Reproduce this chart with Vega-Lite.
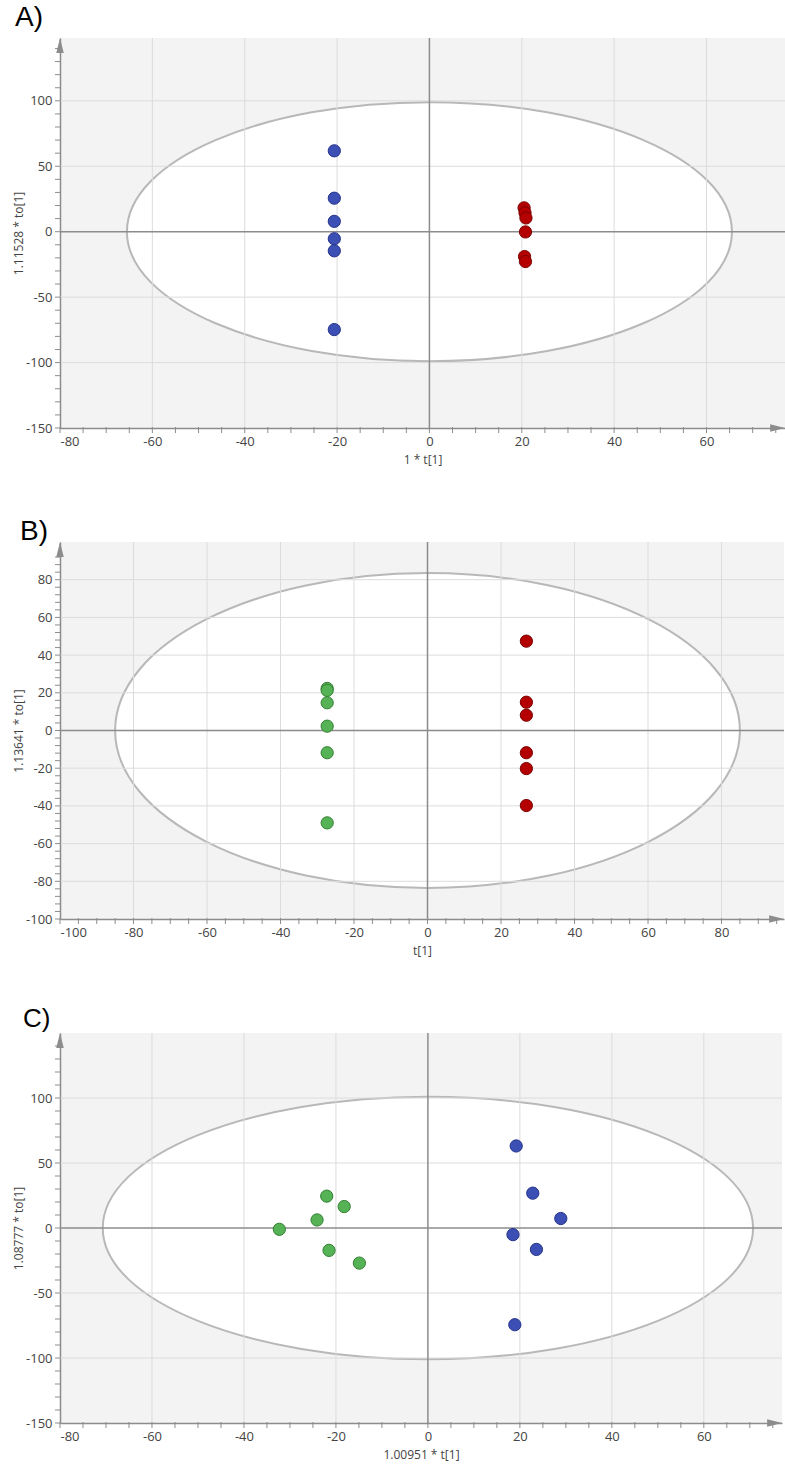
{
  "$schema": "https://vega.github.io/schema/vega-lite/v6.json",
  "padding": {"left": 12, "top": 4, "right": 0, "bottom": 6},
  "bounds": "flush",
  "spacing": 114,
  "config": {
    "view": {"fill": "#f3f3f3", "stroke": null},
    "axis": {"grid": false, "ticks": false, "tickSize": 0, "domainColor": "#8c8c8c", "domainWidth": 1.5, "labelFont": "Open Sans", "labelFontSize": 13, "labelColor": "#444444", "titleFont": "Open Sans", "titleFontSize": 12, "titleFontWeight": "normal", "titleColor": "#444444", "labelOverlap": false, "labelPadding": 8, "labelExpr": "replace(datum.label, '−', '-')"},
    "axisX": {"labelPadding": 7, "titlePadding": 6},
    "axisY": {"titleX": -35, "titleBaseline": "bottom"},
    "title": {"anchor": "start", "frame": "group", "font": "Liberation Sans", "fontWeight": "normal", "color": "#000000", "baseline": "alphabetic"}
  },
  "vconcat": [
    {
      "width": 725,
      "height": 390,
      "title": {"text": "A)", "dx": -45, "offset": 5, "fontSize": 28},
      "layer": [
        {
          "data": {"values": [{"x": 0, "y": 0}]},
          "mark": {"type": "point", "shape": "M-1,0C-1,-0.2364,-0.5523,-0.4283,0,-0.4283C0.5523,-0.4283,1,-0.2364,1,0C1,0.2364,0.5523,0.4283,0,0.4283C-0.5523,0.4283,-1,0.2364,-1,0Z", "size": 366025, "filled": true, "fill": "#ffffff", "stroke": "#b8b8b8", "strokeWidth": 2, "opacity": 1},
          "encoding": {
            "x": {"field": "x", "type": "quantitative", "scale": {"domain": [-80, 77], "nice": false, "zero": false}, "axis": {"title": "1 * t[1]", "values": [-80,-60,-40,-20,0,20,40,60]}},
            "y": {"field": "y", "type": "quantitative", "scale": {"domain": [-150, 148], "nice": false, "zero": false}, "axis": {"title": "1.11528 * to[1]", "values": [-150,-100,-50,0,50,100]}}
          }
        },
        {
          "data": {"values": [{"x": -60}, {"x": -40}, {"x": -20}, {"x": 20}, {"x": 40}, {"x": 60}]},
          "mark": {"type": "rule", "color": "#dcdcdc", "strokeWidth": 1},
          "encoding": {"x": {"field": "x", "type": "quantitative"}}
        },
        {
          "data": {"values": [{"y": -100}, {"y": -50}, {"y": 50}, {"y": 100}]},
          "mark": {"type": "rule", "color": "#dcdcdc", "strokeWidth": 1},
          "encoding": {"y": {"field": "y", "type": "quantitative"}}
        },
        {
          "data": {"values": [{"x": 0}]},
          "mark": {"type": "rule", "color": "#8c8c8c", "strokeWidth": 1.5},
          "encoding": {"x": {"field": "x", "type": "quantitative"}}
        },
        {
          "data": {"values": [{"y": 0}]},
          "mark": {"type": "rule", "color": "#8c8c8c", "strokeWidth": 1.5},
          "encoding": {"y": {"field": "y", "type": "quantitative"}}
        },
        {
          "data": {"values": [{"x":-80},{"x":-75},{"x":-70},{"x":-65},{"x":-60},{"x":-55},{"x":-50},{"x":-45},{"x":-40},{"x":-35},{"x":-30},{"x":-25},{"x":-20},{"x":-15},{"x":-10},{"x":-5},{"x":0},{"x":5},{"x":10},{"x":15},{"x":20},{"x":25},{"x":30},{"x":35},{"x":40},{"x":45},{"x":50},{"x":55},{"x":60},{"x":65},{"x":70},{"x":75}]},
          "mark": {"type": "tick", "orient": "vertical", "size": 6, "thickness": 1, "color": "#8c8c8c", "yOffset": 2, "opacity": 1},
          "encoding": {"x": {"field": "x", "type": "quantitative"}, "y": {"datum": -150, "type": "quantitative"}}
        },
        {
          "data": {"values": [{"y":-150},{"y":-140},{"y":-130},{"y":-120},{"y":-110},{"y":-100},{"y":-90},{"y":-80},{"y":-70},{"y":-60},{"y":-50},{"y":-40},{"y":-30},{"y":-20},{"y":-10},{"y":0},{"y":10},{"y":20},{"y":30},{"y":40},{"y":50},{"y":60},{"y":70},{"y":80},{"y":90},{"y":100},{"y":110},{"y":120},{"y":130},{"y":140}]},
          "mark": {"type": "tick", "orient": "horizontal", "size": 6, "thickness": 1, "color": "#8c8c8c", "xOffset": -2, "opacity": 1},
          "encoding": {"y": {"field": "y", "type": "quantitative"}, "x": {"datum": -80, "type": "quantitative"}}
        },
        {
          "data": {"values": [{"x": -80, "y": 142.3}]},
          "mark": {"type": "point", "shape": "M0,-1L0.5,1L-0.5,1Z", "size": 225, "filled": true, "color": "#8c8c8c", "opacity": 1},
          "encoding": {"x": {"field": "x", "type": "quantitative"}, "y": {"field": "y", "type": "quantitative"}}
        },
        {
          "data": {"values": [{"x": 75.4, "y": -150}]},
          "mark": {"type": "point", "shape": "M1,0L-1,-0.5L-1,0.5Z", "size": 225, "filled": true, "color": "#8c8c8c", "opacity": 1},
          "encoding": {"x": {"field": "x", "type": "quantitative"}, "y": {"field": "y", "type": "quantitative"}}
        },
        {
          "data": {"values": [
            {"x": -20.6, "y": 61.8, "group": "Class 1"},
            {"x": -20.6, "y": 25.6, "group": "Class 1"},
            {"x": -20.6, "y": 7.9, "group": "Class 1"},
            {"x": -20.6, "y": -5.4, "group": "Class 1"},
            {"x": -20.6, "y": -14.6, "group": "Class 1"},
            {"x": -20.6, "y": -74.8, "group": "Class 1"},
            {"x": 20.5, "y": 18.2, "group": "Class 2"},
            {"x": 20.7, "y": 14.4, "group": "Class 2"},
            {"x": 20.9, "y": 10.5, "group": "Class 2"},
            {"x": 20.8, "y": -0.2, "group": "Class 2"},
            {"x": 20.6, "y": -19.0, "group": "Class 2"},
            {"x": 20.8, "y": -22.8, "group": "Class 2"}
          ]},
          "mark": {"type": "point", "filled": true, "size": 150, "strokeWidth": 1, "opacity": 1},
          "encoding": {
            "x": {"field": "x", "type": "quantitative"},
            "y": {"field": "y", "type": "quantitative"},
            "color": {"field": "group", "type": "nominal", "scale": {"domain": ["Class 1", "Class 2", "Class 3"], "range": ["#3b4fb4", "#b40000", "#55b255"]}, "legend": null},
            "stroke": {"field": "group", "type": "nominal", "scale": {"domain": ["Class 1", "Class 2", "Class 3"], "range": ["#26348a", "#7a0000", "#358035"]}, "legend": null}
          }
        }
      ]
    },
    {
      "width": 724,
      "height": 377,
      "title": {"text": "B)", "dx": -40, "offset": -5, "fontSize": 28},
      "layer": [
        {
          "data": {"values": [{"x": 0, "y": 0}]},
          "mark": {"type": "point", "shape": "M-1,0C-1,-0.2782,-0.5523,-0.5038,0,-0.5038C0.5523,-0.5038,1,-0.2782,1,0C1,0.2782,0.5523,0.5038,0,0.5038C-0.5523,0.5038,-1,0.2782,-1,0Z", "size": 390375, "filled": true, "fill": "#ffffff", "stroke": "#b8b8b8", "strokeWidth": 2, "opacity": 1},
          "encoding": {
            "x": {"field": "x", "type": "quantitative", "scale": {"domain": [-100, 97], "nice": false, "zero": false}, "axis": {"title": "t[1]", "values": [-100,-80,-60,-40,-20,0,20,40,60,80]}},
            "y": {"field": "y", "type": "quantitative", "scale": {"domain": [-100, 100], "nice": false, "zero": false}, "axis": {"title": "1.13641 * to[1]", "values": [-100,-80,-60,-40,-20,0,20,40,60,80]}}
          }
        },
        {
          "data": {"values": [{"x": -80}, {"x": -60}, {"x": -40}, {"x": -20}, {"x": 20}, {"x": 40}, {"x": 60}, {"x": 80}]},
          "mark": {"type": "rule", "color": "#dcdcdc", "strokeWidth": 1},
          "encoding": {"x": {"field": "x", "type": "quantitative"}}
        },
        {
          "data": {"values": [{"y": -80}, {"y": -60}, {"y": -40}, {"y": -20}, {"y": 20}, {"y": 40}, {"y": 60}, {"y": 80}]},
          "mark": {"type": "rule", "color": "#dcdcdc", "strokeWidth": 1},
          "encoding": {"y": {"field": "y", "type": "quantitative"}}
        },
        {
          "data": {"values": [{"x": 0}]},
          "mark": {"type": "rule", "color": "#8c8c8c", "strokeWidth": 1.5},
          "encoding": {"x": {"field": "x", "type": "quantitative"}}
        },
        {
          "data": {"values": [{"y": 0}]},
          "mark": {"type": "rule", "color": "#8c8c8c", "strokeWidth": 1.5},
          "encoding": {"y": {"field": "y", "type": "quantitative"}}
        },
        {
          "data": {"values": [{"x":-100},{"x":-95},{"x":-90},{"x":-85},{"x":-80},{"x":-75},{"x":-70},{"x":-65},{"x":-60},{"x":-55},{"x":-50},{"x":-45},{"x":-40},{"x":-35},{"x":-30},{"x":-25},{"x":-20},{"x":-15},{"x":-10},{"x":-5},{"x":0},{"x":5},{"x":10},{"x":15},{"x":20},{"x":25},{"x":30},{"x":35},{"x":40},{"x":45},{"x":50},{"x":55},{"x":60},{"x":65},{"x":70},{"x":75},{"x":80},{"x":85},{"x":90},{"x":95}]},
          "mark": {"type": "tick", "orient": "vertical", "size": 6, "thickness": 1, "color": "#8c8c8c", "yOffset": 2, "opacity": 1},
          "encoding": {"x": {"field": "x", "type": "quantitative"}, "y": {"datum": -100, "type": "quantitative"}}
        },
        {
          "data": {"values": [{"y":-100},{"y":-96},{"y":-92},{"y":-88},{"y":-84},{"y":-80},{"y":-76},{"y":-72},{"y":-68},{"y":-64},{"y":-60},{"y":-56},{"y":-52},{"y":-48},{"y":-44},{"y":-40},{"y":-36},{"y":-32},{"y":-28},{"y":-24},{"y":-20},{"y":-16},{"y":-12},{"y":-8},{"y":-4},{"y":0},{"y":4},{"y":8},{"y":12},{"y":16},{"y":20},{"y":24},{"y":28},{"y":32},{"y":36},{"y":40},{"y":44},{"y":48},{"y":52},{"y":56},{"y":60},{"y":64},{"y":68},{"y":72},{"y":76},{"y":80},{"y":84},{"y":88},{"y":92}]},
          "mark": {"type": "tick", "orient": "horizontal", "size": 6, "thickness": 1, "color": "#8c8c8c", "xOffset": -2, "opacity": 1},
          "encoding": {"y": {"field": "y", "type": "quantitative"}, "x": {"datum": -100, "type": "quantitative"}}
        },
        {
          "data": {"values": [{"x": -100, "y": 96}]},
          "mark": {"type": "point", "shape": "M0,-1L0.5,1L-0.5,1Z", "size": 225, "filled": true, "color": "#8c8c8c", "opacity": 1},
          "encoding": {"x": {"field": "x", "type": "quantitative"}, "y": {"field": "y", "type": "quantitative"}}
        },
        {
          "data": {"values": [{"x": 95, "y": -100}]},
          "mark": {"type": "point", "shape": "M1,0L-1,-0.5L-1,0.5Z", "size": 225, "filled": true, "color": "#8c8c8c", "opacity": 1},
          "encoding": {"x": {"field": "x", "type": "quantitative"}, "y": {"field": "y", "type": "quantitative"}}
        },
        {
          "data": {"values": [
            {"x": -27.3, "y": 22.3, "group": "Class 3"},
            {"x": -27.3, "y": 21.3, "group": "Class 3"},
            {"x": -27.3, "y": 14.7, "group": "Class 3"},
            {"x": -27.3, "y": 2.3, "group": "Class 3"},
            {"x": -27.3, "y": -11.8, "group": "Class 3"},
            {"x": -27.3, "y": -49.0, "group": "Class 3"},
            {"x": 26.9, "y": 47.4, "group": "Class 2"},
            {"x": 26.9, "y": 15.0, "group": "Class 2"},
            {"x": 26.9, "y": 8.1, "group": "Class 2"},
            {"x": 26.9, "y": -11.8, "group": "Class 2"},
            {"x": 26.9, "y": -20.2, "group": "Class 2"},
            {"x": 26.9, "y": -39.8, "group": "Class 2"}
          ]},
          "mark": {"type": "point", "filled": true, "size": 150, "strokeWidth": 1, "opacity": 1},
          "encoding": {
            "x": {"field": "x", "type": "quantitative"},
            "y": {"field": "y", "type": "quantitative"},
            "color": {"field": "group", "type": "nominal", "scale": {"domain": ["Class 1", "Class 2", "Class 3"], "range": ["#3b4fb4", "#b40000", "#55b255"]}, "legend": null},
            "stroke": {"field": "group", "type": "nominal", "scale": {"domain": ["Class 1", "Class 2", "Class 3"], "range": ["#26348a", "#7a0000", "#358035"]}, "legend": null}
          }
        }
      ]
    },
    {
      "width": 722,
      "height": 390,
      "title": {"text": "C)", "dx": -37, "offset": 0, "fontSize": 26},
      "layer": [
        {
          "data": {"values": [{"x": 0, "y": 0}]},
          "mark": {"type": "point", "shape": "M-1,0C-1,-0.2230,-0.5523,-0.4038,0,-0.4038C0.5523,-0.4038,1,-0.2230,1,0C1,0.2230,0.5523,0.4038,0,0.4038C-0.5523,0.4038,-1,0.2230,-1,0Z", "size": 422890, "filled": true, "fill": "#ffffff", "stroke": "#b8b8b8", "strokeWidth": 2, "opacity": 1},
          "encoding": {
            "x": {"field": "x", "type": "quantitative", "scale": {"domain": [-80, 77], "nice": false, "zero": false}, "axis": {"title": "1.00951 * t[1]", "values": [-80,-60,-40,-20,0,20,40,60]}},
            "y": {"field": "y", "type": "quantitative", "scale": {"domain": [-150, 150], "nice": false, "zero": false}, "axis": {"title": "1.08777 * to[1]", "values": [-150,-100,-50,0,50,100]}}
          }
        },
        {
          "data": {"values": [{"x": -60}, {"x": -40}, {"x": -20}, {"x": 20}, {"x": 40}, {"x": 60}]},
          "mark": {"type": "rule", "color": "#dcdcdc", "strokeWidth": 1},
          "encoding": {"x": {"field": "x", "type": "quantitative"}}
        },
        {
          "data": {"values": [{"y": -100}, {"y": -50}, {"y": 50}, {"y": 100}]},
          "mark": {"type": "rule", "color": "#dcdcdc", "strokeWidth": 1},
          "encoding": {"y": {"field": "y", "type": "quantitative"}}
        },
        {
          "data": {"values": [{"x": 0}]},
          "mark": {"type": "rule", "color": "#8c8c8c", "strokeWidth": 1.5},
          "encoding": {"x": {"field": "x", "type": "quantitative"}}
        },
        {
          "data": {"values": [{"y": 0}]},
          "mark": {"type": "rule", "color": "#8c8c8c", "strokeWidth": 1.5},
          "encoding": {"y": {"field": "y", "type": "quantitative"}}
        },
        {
          "data": {"values": [{"x":-80},{"x":-75},{"x":-70},{"x":-65},{"x":-60},{"x":-55},{"x":-50},{"x":-45},{"x":-40},{"x":-35},{"x":-30},{"x":-25},{"x":-20},{"x":-15},{"x":-10},{"x":-5},{"x":0},{"x":5},{"x":10},{"x":15},{"x":20},{"x":25},{"x":30},{"x":35},{"x":40},{"x":45},{"x":50},{"x":55},{"x":60},{"x":65},{"x":70},{"x":75}]},
          "mark": {"type": "tick", "orient": "vertical", "size": 6, "thickness": 1, "color": "#8c8c8c", "yOffset": 2, "opacity": 1},
          "encoding": {"x": {"field": "x", "type": "quantitative"}, "y": {"datum": -150, "type": "quantitative"}}
        },
        {
          "data": {"values": [{"y":-150},{"y":-140},{"y":-130},{"y":-120},{"y":-110},{"y":-100},{"y":-90},{"y":-80},{"y":-70},{"y":-60},{"y":-50},{"y":-40},{"y":-30},{"y":-20},{"y":-10},{"y":0},{"y":10},{"y":20},{"y":30},{"y":40},{"y":50},{"y":60},{"y":70},{"y":80},{"y":90},{"y":100},{"y":110},{"y":120},{"y":130},{"y":140}]},
          "mark": {"type": "tick", "orient": "horizontal", "size": 6, "thickness": 1, "color": "#8c8c8c", "xOffset": -2, "opacity": 1},
          "encoding": {"y": {"field": "y", "type": "quantitative"}, "x": {"datum": -80, "type": "quantitative"}}
        },
        {
          "data": {"values": [{"x": -80, "y": 144.2}]},
          "mark": {"type": "point", "shape": "M0,-1L0.5,1L-0.5,1Z", "size": 225, "filled": true, "color": "#8c8c8c", "opacity": 1},
          "encoding": {"x": {"field": "x", "type": "quantitative"}, "y": {"field": "y", "type": "quantitative"}}
        },
        {
          "data": {"values": [{"x": 75.4, "y": -150}]},
          "mark": {"type": "point", "shape": "M1,0L-1,-0.5L-1,0.5Z", "size": 225, "filled": true, "color": "#8c8c8c", "opacity": 1},
          "encoding": {"x": {"field": "x", "type": "quantitative"}, "y": {"field": "y", "type": "quantitative"}}
        },
        {
          "data": {"values": [
            {"x": -32.3, "y": -1.0, "group": "Class 3"},
            {"x": -24.1, "y": 6.2, "group": "Class 3"},
            {"x": -22.0, "y": 24.5, "group": "Class 3"},
            {"x": -18.2, "y": 16.5, "group": "Class 3"},
            {"x": -21.5, "y": -17.2, "group": "Class 3"},
            {"x": -14.9, "y": -27.0, "group": "Class 3"},
            {"x": 19.2, "y": 63.1, "group": "Class 1"},
            {"x": 22.8, "y": 26.8, "group": "Class 1"},
            {"x": 28.9, "y": 7.3, "group": "Class 1"},
            {"x": 18.5, "y": -5.1, "group": "Class 1"},
            {"x": 23.6, "y": -16.5, "group": "Class 1"},
            {"x": 18.9, "y": -74.4, "group": "Class 1"}
          ]},
          "mark": {"type": "point", "filled": true, "size": 150, "strokeWidth": 1, "opacity": 1},
          "encoding": {
            "x": {"field": "x", "type": "quantitative"},
            "y": {"field": "y", "type": "quantitative"},
            "color": {"field": "group", "type": "nominal", "scale": {"domain": ["Class 1", "Class 2", "Class 3"], "range": ["#3b4fb4", "#b40000", "#55b255"]}, "legend": null},
            "stroke": {"field": "group", "type": "nominal", "scale": {"domain": ["Class 1", "Class 2", "Class 3"], "range": ["#26348a", "#7a0000", "#358035"]}, "legend": null}
          }
        }
      ]
    }
  ]
}
